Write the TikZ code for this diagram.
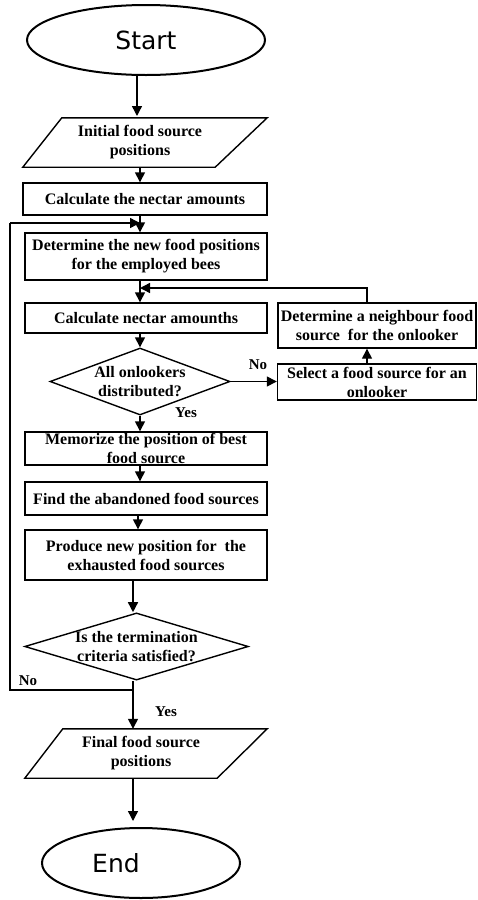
\documentclass[tikz,border=0pt]{standalone}
\usepackage{fontspec}
\setmainfont{Liberation Serif}
\newfontfamily\termfont{DejaVu Sans}
\usetikzlibrary{shapes.geometric,arrows.meta}
\begin{document}
\begin{tikzpicture}[x=1pt,y=-1pt,
  txt/.style={font=\fontsize{16}{19}\selectfont\bfseries},
  box/.style={txt,draw,line width=1.4pt,inner sep=1pt,align=center},
  para/.style={txt,inner sep=1pt,align=center},
  dia/.style={txt,draw,diamond,line width=1.4pt,inner sep=0pt,align=center},
  term/.style={draw,ellipse,line width=2pt,font=\termfont\fontsize{25}{30}\selectfont},
  arr/.style={-{Triangle[length=10pt,width=10pt]},line width=1.4pt},
  lbl/.style={font=\fontsize{15}{17}\selectfont\bfseries}]
\useasboundingbox (0,0) rectangle (478,900);
% terminals
\node[term,minimum width=238pt,minimum height=70pt] (start) at (146,40) {Start};
\node[term,minimum width=198pt,minimum height=70pt] (end) at (141,863) {\hspace*{-50pt}End};
% parallelograms
\node[para,minimum width=244pt,minimum height=49pt] (p1) at (145,142.5) {\hspace*{-10pt}Initial food source\\\hspace*{-10pt}positions};
\draw[line width=1.4pt] ([xshift=39pt]p1.north west) -- (p1.north east) -- ([xshift=-52pt]p1.south east) -- (p1.south west) -- cycle;
\node[para,minimum width=242pt,minimum height=49pt] (p2) at (146,753.5) {\hspace*{-10pt}Final food source\\\hspace*{-10pt}positions};
\draw[line width=1.4pt] ([xshift=38pt]p2.north west) -- (p2.north east) -- ([xshift=-50pt]p2.south east) -- (p2.south west) -- cycle;
% process boxes
\node[box,minimum width=244pt,minimum height=32pt] (r1) at (145,199) {Calculate the nectar amounts};
\node[box,minimum width=242pt,minimum height=47pt] (r2) at (146,256.5) {Determine the new food positions\\for the employed bees};
\node[box,minimum width=242pt,minimum height=30pt] (r3) at (146,318) {Calculate nectar amounths};
\node[dia,aspect=2.7,minimum width=180pt,minimum height=67pt] (d1) at (140,381.5) {All onlookers\\distributed?};
\node[box,minimum width=199pt,minimum height=36pt] (sel) at (377,382) {Select a food source for an\\onlooker};
\node[box,minimum width=198pt,minimum height=45pt] (nb) at (377,325.5) {Determine a neighbour food\\source\ \ for the onlooker};
\node[box,minimum width=242pt,minimum height=33pt] (r4) at (146,448.5) {Memorize the position of best\\food source};
\node[box,minimum width=242pt,minimum height=33pt] (r5) at (146,498.5) {Find the abandoned food sources};
\node[box,minimum width=242pt,minimum height=50pt] (r6) at (146,555) {Produce new position for\ \ the\\exhausted food sources};
\node[dia,aspect=3.33,minimum width=223pt,minimum height=67pt] (d2) at (136.5,646.5) {Is the termination\\criteria satisfied?};
% helper coordinates
\coordinate (ax) at (140,0);
\coordinate (bx) at (133,0);
\coordinate (m1) at (140,223);
\coordinate (m2) at (140,288);
\coordinate (m3) at (133,690);
\coordinate (lb) at (10,690);
\coordinate (lt) at (10,223);
% connectors
\draw[arr] (start.south -| 137,0) -- ([yshift=-40pt]start.south -| 137,0);
\draw[arr] (p1.south -| ax) -- (r1.north -| ax);
\draw[arr] (r1.south -| ax) -- (r2.north -| ax);
\draw[arr] (r2.south -| ax) -- (r3.north -| ax);
\draw[arr] (r3.south -| ax) -- (d1.north);
\draw[arr] (d1.east) -- (sel.west |- d1.east);
\draw[arr] ([xshift=-10pt]sel.north) -- ([xshift=-10pt]nb.south);
\draw[arr] ([xshift=-10pt]nb.north) |- (m2);
\draw[arr] (d1.south) -- (r4.north -| d1.south);
\draw[arr] (r4.south -| ax) -- (r5.north -| ax);
\draw[arr] (r5.south -| 138,0) -- (r6.north -| 138,0);
\draw[arr] (r6.south -| bx) -- (d2.north -| bx);
\draw[arr] (d2.south -| bx) -- (p2.north -| bx);
\draw[line width=1.4pt] (m3) -- (lb) -- (lt);
\draw[arr] (lt) -- (m1);
\draw[arr] (p2.south -| bx) -- ([yshift=6pt]end.north -| bx);
% labels
\node[lbl] (no1) at (258,365) {No};
\node[lbl] (yes1) at (186,413) {Yes};
\node[lbl] (no2) at (28,681) {No};
\node[lbl] (yes2) at (166,712) {Yes};
\end{tikzpicture}
\end{document}
